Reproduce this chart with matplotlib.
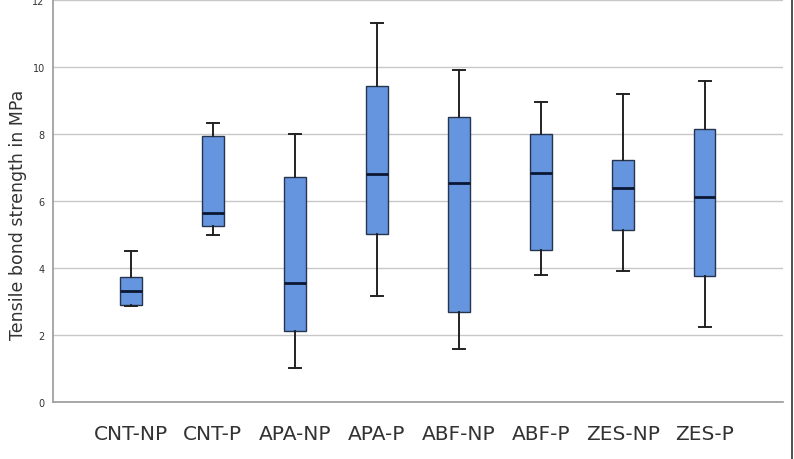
import matplotlib
matplotlib.use("Agg")
import matplotlib.pyplot as plt
from matplotlib.lines import Line2D

# ── data ──────────────────────────────────────────
groups = ['CNT-NP', 'CNT-P', 'APA-NP', 'APA-P', 'ABF-NP', 'ABF-P', 'ZES-NP', 'ZES-P']
whislo = [2.86, 4.99, 1.01, 3.17, 1.57, 3.78, 3.90, 2.23]
q1     = [2.90, 5.26, 2.13, 5.01, 2.70, 4.54, 5.13, 3.75]
med    = [3.32, 5.65, 3.54, 6.81, 6.53, 6.84, 6.39, 6.11]
q3     = [3.74, 7.95, 6.72, 9.44, 8.50, 8.00, 7.21, 8.15]
whishi = [4.50, 8.33, 8.00, 11.30, 9.91, 8.95, 9.18, 9.59]

stats = []
for i, g in enumerate(groups):
    stats.append(dict(label=g, whislo=whislo[i], q1=q1[i], med=med[i],
                      q3=q3[i], whishi=whishi[i], fliers=[]))

# ── plot ──────────────────────────────────────────
fig = plt.figure(figsize=(7.94, 4.6), dpi=100)
ax = fig.add_axes([0.0668, 0.124, 0.919, 0.874])

ax.bxp(stats, positions=range(len(groups)), widths=0.26, patch_artist=True,
       boxprops=dict(facecolor='#6495de', edgecolor='#26344d', linewidth=1.0),
       medianprops=dict(color='#0b1733', linewidth=2.0),
       whiskerprops=dict(color='#222222', linewidth=1.4),
       capprops=dict(color='#222222', linewidth=1.4),
       capwidths=0.14, zorder=3)

ax.set_xlim(-0.95, 7.95)
ax.set_ylim(0, 12)
ax.set_yticks([0, 2, 4, 6, 8, 10, 12])
ax.yaxis.grid(True, color='#c8c8c8', linewidth=1.0)
ax.set_axisbelow(True)

ax.tick_params(axis='y', labelsize=7, length=0, pad=6, labelcolor='#333333')
ax.tick_params(axis='x', labelsize=14.5, length=0, pad=16, labelcolor='#333333')
ax.set_ylabel('Tensile bond strength in MPa', fontsize=12.5, color='#333333')
ax.yaxis.set_label_coords(-0.036, 0.468)

for s in ['top', 'right']:
    ax.spines[s].set_visible(False)
ax.spines['left'].set_color('#999999')
ax.spines['bottom'].set_color('#999999')
ax.spines['left'].set_linewidth(1.2)
ax.spines['bottom'].set_linewidth(1.2)

# dark border line at right edge of image
fig.add_artist(Line2D([0.9975, 0.9975], [0, 1], color='#333333', linewidth=1.2))

fig.savefig('out.png', dpi=100)
